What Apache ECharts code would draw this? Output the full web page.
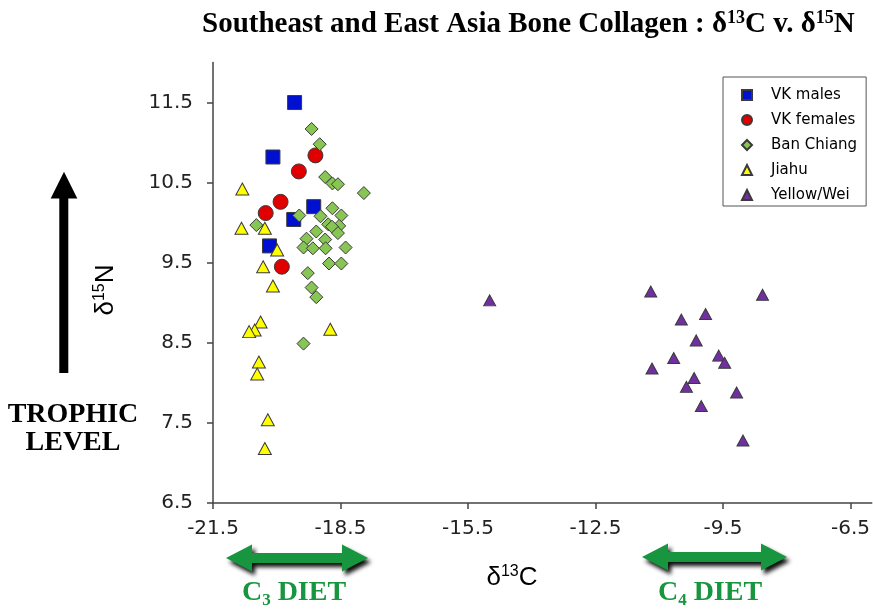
<!DOCTYPE html>
<html><head><meta charset="utf-8">
<script src="https://cdn.jsdelivr.net/npm/echarts@6/dist/echarts.min.js"></script>
<style>html,body{margin:0;padding:0;background:#fff}#c{width:873px;height:609px}</style>
</head><body><div id="c"></div>
<script>
const xTicks = [-21.5, -18.5, -15.5, -12.5, -9.5, -6.5];
const yTicks = [6.5, 7.5, 8.5, 9.5, 10.5, 11.5];
const seriesNames = ['VK males', 'VK females', 'Ban Chiang', 'Jiahu', 'Yellow/Wei'];
const vkMales = [[-19.58, 11.5], [-20.09, 10.82], [-19.13, 10.20], [-19.60, 10.04], [-20.17, 9.71]];
const vkFemales = [[-19.09, 10.84], [-19.48, 10.64], [-19.91, 10.26], [-20.26, 10.12], [-19.88, 9.45]];
const banChiang = [
  [-19.18, 11.17], [-18.99, 10.98], [-18.86, 10.57], [-18.69, 10.49], [-18.56, 10.48],
  [-17.95, 10.37], [-18.69, 10.18], [-18.48, 10.09], [-19.47, 10.09], [-18.97, 10.08],
  [-20.48, 9.97], [-18.79, 9.98], [-18.53, 9.96], [-18.70, 9.95], [-18.56, 9.87],
  [-19.07, 9.89], [-19.30, 9.80], [-18.86, 9.79], [-19.37, 9.69], [-19.15, 9.68],
  [-18.85, 9.68], [-18.38, 9.69], [-18.77, 9.49], [-18.48, 9.49], [-19.27, 9.37],
  [-19.18, 9.19], [-19.07, 9.07], [-19.37, 8.49]
];
const jiahu = [
  [-20.81, 10.42], [-20.83, 9.93], [-20.28, 9.93], [-19.99, 9.66], [-20.32, 9.45],
  [-20.09, 9.21], [-20.38, 8.76], [-20.52, 8.66], [-20.65, 8.64], [-18.74, 8.67],
  [-20.42, 8.26], [-20.46, 8.11], [-20.21, 7.54], [-20.28, 7.18]
];
const yellowWei = [
  [-11.20, 9.14], [-8.57, 9.10], [-9.91, 8.86], [-10.48, 8.79], [-10.13, 8.53],
  [-10.66, 8.31], [-9.60, 8.34], [-9.46, 8.25], [-11.17, 8.18], [-10.18, 8.06],
  [-10.36, 7.95], [-9.18, 7.88], [-10.01, 7.71], [-9.03, 7.28], [-14.99, 9.03]
];

const chart = echarts.init(document.getElementById('c'), null, {renderer: 'canvas'});
const border = {borderColor: '#3a3a3a', borderWidth: 1, opacity: 1};
const GREEN = '#17963f';

function greenArrow(x0, x1, yc) {
  const hl = 26, hh = 13.5, sh = 5;
  return {
    type: 'polygon', silent: true,
    shape: {points: [[x0, yc], [x0 + hl, yc - hh], [x0 + hl, yc - sh], [x1 - hl, yc - sh], [x1 - hl, yc - hh], [x1, yc], [x1 - hl, yc + hh], [x1 - hl, yc + sh], [x0 + hl, yc + sh], [x0 + hl, yc + hh]]},
    style: {fill: GREEN, shadowBlur: 4, shadowColor: 'rgba(0,0,0,0.95)', shadowOffsetX: 3, shadowOffsetY: 4}
  };
}
const dietRich = {
  b: {fontFamily: 'Liberation Serif', fontWeight: 'bold', fontSize: 28, lineHeight: 32, fill: GREEN, color: GREEN},
  sub: {fontFamily: 'Liberation Serif', fontWeight: 'bold', fontSize: 17, lineHeight: 10, verticalAlign: 'bottom', color: GREEN}
};
const nameRich = {
  d: {fontFamily: 'Liberation Sans', fontSize: 26, lineHeight: 28, fill: '#000'},
  s: {fontFamily: 'Liberation Sans', fontSize: 16, lineHeight: 14, verticalAlign: 'top', fill: '#000'}
};

const option = {
  animation: false,
  backgroundColor: '#fff',
  title: {
    text: '{t|Southeast and East Asia Bone Collagen : δ}{s|13}{t|C v. δ}{s|15}{t|N}',
    left: 197, top: 4,
    textStyle: {
      rich: {
        t: {fontFamily: 'Liberation Serif', fontWeight: 'bold', fontSize: 29, lineHeight: 32, color: '#000'},
        s: {fontFamily: 'Liberation Serif', fontWeight: 'bold', fontSize: 18, lineHeight: 16, verticalAlign: 'top', color: '#000'}
      }
    }
  },
  grid: {left: 213, right: 1, top: 62.5, bottom: 106, containLabel: false},
  legend: {
    orient: 'vertical', left: 723, top: 77,
    data: seriesNames,
    itemWidth: 10, itemHeight: 10, itemGap: 7,
    padding: [9, 9, 2, 18],
    borderColor: '#555', borderWidth: 1, backgroundColor: '#fff',
    formatter: n => '{sp|}' + n,
    textStyle: {fontFamily: 'DejaVu Sans', fontSize: 15, lineHeight: 18, color: '#000', rich: {sp: {width: 14}}}
  },
  xAxis: {
    type: 'value', min: -21.5, max: -6,
    splitLine: {show: false},
    axisLine: {show: true, onZero: false, lineStyle: {color: '#444', width: 1.5}},
    axisTick: {show: true, customValues: xTicks, length: 6, lineStyle: {color: '#444', width: 1.5}},
    axisLabel: {customValues: xTicks, formatter: v => String(v), fontFamily: 'DejaVu Sans', fontSize: 20, color: '#222', margin: 16}
  },
  yAxis: {
    type: 'value', min: 6.5, max: 12,
    splitLine: {show: false},
    axisLine: {show: true, onZero: false, lineStyle: {color: '#444', width: 1.5}},
    axisTick: {show: true, customValues: yTicks, length: 6, lineStyle: {color: '#444', width: 1.5}},
    axisLabel: {customValues: yTicks, formatter: v => String(v), fontFamily: 'DejaVu Sans', fontSize: 20, color: '#222', margin: 20}
  },
  series: [
    {type: 'scatter', name: seriesNames[0], data: vkMales, symbol: 'rect', symbolSize: 14, itemStyle: Object.assign({color: '#0010d0'}, border)},
    {type: 'scatter', name: seriesNames[1], data: vkFemales, symbol: 'circle', symbolSize: 15, itemStyle: Object.assign({color: '#e00000'}, border)},
    {type: 'scatter', name: seriesNames[2], data: banChiang, symbol: 'diamond', symbolSize: 13, itemStyle: Object.assign({color: '#88c653'}, border)},
    {type: 'scatter', name: seriesNames[3], data: jiahu, symbol: 'triangle', symbolSize: [13, 12], itemStyle: Object.assign({color: '#ffff00'}, border)},
    {type: 'scatter', name: seriesNames[4], data: yellowWei, symbol: 'triangle', symbolSize: [12, 11], itemStyle: Object.assign({color: '#7030a0'}, border)}
  ],
  graphic: [
    {type: 'polygon', silent: true,
     shape: {points: [[59.3, 373], [59.3, 198.5], [50.7, 198.5], [64, 171.7], [77.3, 198.5], [68.3, 198.5], [68.3, 373]]},
     style: {fill: '#000'}},
    {type: 'text', silent: true, x: 73, y: 429,
     style: {text: 'TROPHIC\nLEVEL', font: 'bold 28px "Liberation Serif"', align: 'center', verticalAlign: 'middle', lineHeight: 28, fill: '#000'}},
    {type: 'text', silent: true, x: 106, y: 290, rotation: Math.PI / 2,
     style: {text: '{d|δ}{s|15}{d|N}', align: 'center', verticalAlign: 'middle', rich: nameRich}},
    {type: 'text', silent: true, x: 512, y: 578,
     style: {text: '{d|δ}{s|13}{d|C}', align: 'center', verticalAlign: 'middle', rich: nameRich}},
    greenArrow(226, 368, 558),
    greenArrow(642, 787, 557),
    {type: 'text', silent: true, x: 294, y: 593,
     style: {text: '{b|C}{sub|3}{b| DIET}', align: 'center', verticalAlign: 'middle', rich: dietRich, fill: GREEN}},
    {type: 'text', silent: true, x: 710, y: 593,
     style: {text: '{b|C}{sub|4}{b| DIET}', align: 'center', verticalAlign: 'middle', rich: dietRich, fill: GREEN}}
  ]
};
chart.setOption(option);
</script>
</body></html>
